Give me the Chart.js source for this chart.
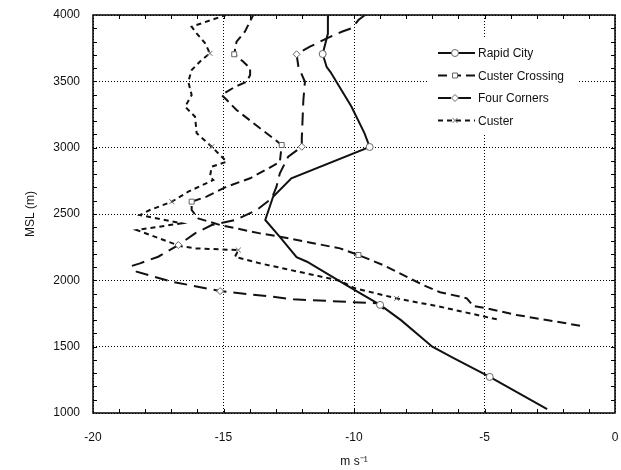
<!DOCTYPE html>
<html>
<head>
<meta charset="utf-8">
<script src="https://cdn.jsdelivr.net/npm/chart.js@4.4.0/dist/chart.umd.min.js"></script>
<style>
  html, body { margin: 0; padding: 0; background: #fff; }
  #wrap { width: 621px; height: 470px; }
</style>
</head>
<body>
<div id="wrap"><canvas id="wind"></canvas></div>
<script>
// wind speed (m s-1) against altitude (m MSL), listed bottom to top
const seriesNames = ['Rapid City', 'Custer Crossing', 'Four Corners', 'Custer'];

const rapidSpeed = [-2.6, -4.8, -6.2, -7.0, -8.2, -9.0, -10.0, -10.6, -11.8, -12.2, -12.85, -13.4, -13.1, -12.4, -9.4, -9.6, -10.1, -10.9, -11.05, -11.2, -11.0, -11.0];
const rapidAlt   = [1030, 1272, 1415, 1500, 1700, 1815, 1930, 2000, 2140, 2175, 2329, 2455, 2630, 2769, 3005, 3110, 3310, 3570, 3610, 3706, 3860, 4000];
const rapidMarks = [1272, 1815, 3005, 3706];

const crossSpeed = [-1.34, -2.23, -3.77, -4.92, -5.43, -5.68, -5.94, -6.7, -7.21, -7.66, -8.88, -9.83, -10.54, -12.84, -13.6, -15.13, -15.97, -16.22, -16.22, -15.65, -14.88, -13.98, -13.28, -12.84, -12.77, -13.09, -13.6, -14.5, -14.94, -15.07, -14.56, -14.11, -13.98, -13.98, -14.24, -14.59, -14.5, -14.18, -13.86];
const crossAlt   = [1658, 1688, 1739, 1789, 1806, 1864, 1877, 1910, 1952, 1995, 2115, 2191, 2241, 2329, 2354, 2417, 2467, 2530, 2593, 2631, 2706, 2769, 2844, 2894, 3020, 3070, 3146, 3284, 3372, 3397, 3459, 3497, 3548, 3598, 3648, 3704, 3799, 3875, 4000];
const crossMarks = [2191, 2593, 3020, 3704];

const cornersSpeed = [-8.85, -9.13, -12.33, -13.15, -15.13, -16.98, -18.33, -18.52, -18.2, -17.5, -16.73, -16.09, -15.45, -14.56, -13.73, -13.15, -12.97, -12.84, -12.52, -12.0, -12.0, -11.94, -11.88, -12.13, -12.2, -11.69, -11.04, -10.47, -10.09, -9.83, -9.58];
const cornersAlt   = [1785, 1827, 1857, 1877, 1919, 1990, 2065, 2108, 2128, 2178, 2266, 2354, 2417, 2454, 2530, 2618, 2706, 2807, 2932, 3007, 3070, 3359, 3497, 3610, 3704, 3761, 3824, 3874, 3900, 3962, 4000];
const cornersMarks = [1919, 2266, 3007, 3704];

const custerSpeed = [-4.53, -6.7, -8.37, -9.96, -10.54, -13.6, -14.56, -14.43, -16.09, -16.67, -18.33, -16.6, -18.2, -17.82, -16.98, -16.35, -15.39, -15.52, -15.45, -14.88, -15.45, -16.03, -16.09, -16.47, -16.22, -16.35, -16.22, -15.84, -15.52, -15.71, -16.03, -16.22, -14.9];
const custerAlt   = [1706, 1801, 1864, 1940, 1997, 2128, 2178, 2228, 2241, 2259, 2379, 2430, 2492, 2530, 2593, 2668, 2756, 2781, 2857, 2894, 3007, 3110, 3233, 3309, 3397, 3497, 3585, 3661, 3711, 3789, 3862, 3912, 4000];
const custerMarks = [1864, 2228, 2593, 3007, 3711];

// axis ranges
const xRange = [-20, 0];
const yRange = [1000, 4000];

Chart.defaults.font.family = '"Liberation Sans", Arial, Helvetica, sans-serif';
Chart.defaults.font.size = 12;
Chart.defaults.color = '#111';

function makeSet(label, speeds, alts, marks, dash, style) {
  return {
    label: label,
    data: speeds.map((s, i) => ({ x: s, y: alts[i] })),
    showLine: true,
    borderColor: '#111',
    borderWidth: 2,
    borderDash: dash,
    pointStyle: style,
    pointRadius: ctx => marks.includes(alts[ctx.dataIndex]) ? 3.5 : 0,
    pointBorderColor: '#666',
    pointBackgroundColor: '#fff',
    pointBorderWidth: 1,
    tension: 0
  };
}

// minor ticks on all four sides plus the solid box
const frame = {
  id: 'frame',
  beforeDatasetsDraw(chart) {
    const { ctx, chartArea: a, scales: { x, y } } = chart;
    ctx.save();
    ctx.strokeStyle = '#000';
    ctx.lineWidth = 1;
    ctx.beginPath();
    for (let v = x.min + 1; v < x.max; v++) {
      const px = Math.round(x.getPixelForValue(v)) + 0.5;
      ctx.moveTo(px, a.bottom); ctx.lineTo(px, a.bottom - 4);
      ctx.moveTo(px, a.top); ctx.lineTo(px, a.top + 4);
    }
    for (let v = y.min + 100; v < y.max; v += 100) {
      const py = Math.round(y.getPixelForValue(v)) + 0.5;
      ctx.moveTo(a.left, py); ctx.lineTo(a.left + 4, py);
      ctx.moveTo(a.right, py); ctx.lineTo(a.right - 4, py);
    }
    ctx.stroke();
    ctx.lineWidth = 1.5;
    ctx.strokeRect(a.left, a.top, a.right - a.left, a.bottom - a.top);
    ctx.restore();
  },
  afterDraw(chart) {
    const { ctx, chartArea: a } = chart;
    const bx = a.right - 177, by = a.top + 23;
    ctx.save();
    ctx.fillStyle = '#fff';
    ctx.fillRect(bx - 10, by, 150, 95);
    chart.data.datasets.forEach((ds, i) => {
      const ly = by + 15 + i * 22.5;
      ctx.strokeStyle = '#111';
      ctx.lineWidth = 2;
      ctx.setLineDash(ds.borderDash);
      ctx.beginPath();
      ctx.moveTo(bx, ly);
      ctx.lineTo(bx + 37, ly);
      ctx.stroke();
      ctx.setLineDash([]);
      ctx.lineWidth = 1;
      ctx.strokeStyle = '#666';
      ctx.fillStyle = '#fff';
      Chart.helpers.drawPoint(ctx, { pointStyle: ds.pointStyle, radius: 3.5, borderWidth: 1 }, bx + 17, ly);
      ctx.fillStyle = '#111';
      ctx.font = '12px "Liberation Sans", Arial, sans-serif';
      ctx.textBaseline = 'middle';
      ctx.fillText(ds.label, bx + 40, ly + 1);
    });
    ctx.restore();
  }
};

new Chart(document.getElementById('wind'), {
  type: 'scatter',
  data: {
    datasets: [
      makeSet(seriesNames[0], rapidSpeed, rapidAlt, rapidMarks, [], 'circle'),
      makeSet(seriesNames[1], crossSpeed, crossAlt, crossMarks, [9, 5], 'rect'),
      makeSet(seriesNames[2], cornersSpeed, cornersAlt, cornersMarks, [13, 7], 'rectRot'),
      makeSet(seriesNames[3], custerSpeed, custerAlt, custerMarks, [5, 4], 'crossRot')
    ]
  },
  options: {
    responsive: true,
    maintainAspectRatio: false,
    animation: false,
    layout: { padding: { top: 15, right: 6, left: 0, bottom: 0 } },
    plugins: { legend: { display: false }, tooltip: { enabled: false } },
    scales: {
      x: {
        type: 'linear',
        min: xRange[0], max: xRange[1],
        ticks: { stepSize: 5, padding: 17, color: '#111', callback: v => String(v) },
        grid: { color: '#000', lineWidth: 1, drawTicks: false },
        border: { display: false, dash: [1, 2] },
        title: { display: true, text: 'm s\u207B\u00B9', padding: { top: 0, bottom: 1 }, color: '#111' },
        afterFit: s => { s.height = 57; s.paddingLeft = 0; s.paddingRight = 0; }
      },
      y: {
        type: 'linear',
        min: yRange[0], max: yRange[1],
        ticks: { stepSize: 500, padding: 13, color: '#111', callback: v => String(v) },
        grid: { color: '#000', lineWidth: 1, drawTicks: false },
        border: { display: false, dash: [1, 2] },
        title: { display: true, text: 'MSL (m)', padding: { top: 23, bottom: 0 }, color: '#111' },
        afterFit: s => { s.width = 93; s.paddingTop = 0; s.paddingBottom = 0; }
      }
    }
  },
  plugins: [frame]
});
</script>
</body>
</html>
